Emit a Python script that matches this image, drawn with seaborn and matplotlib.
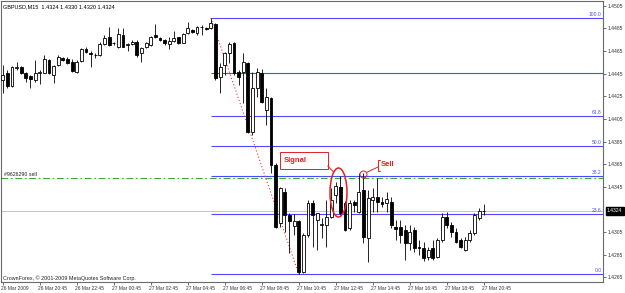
import numpy as np
import pandas as pd
import matplotlib
matplotlib.use("Agg")
import matplotlib.pyplot as plt
import matplotlib.patches as mpatches
from matplotlib.lines import Line2D
from matplotlib.transforms import Affine2D, ScaledTranslation
import seaborn as sns

# ---------------- data ----------------
opens = [1.44394, 1.44455, 1.44341, 1.44500, 1.44508, 1.44455, 1.44429, 1.44394, 1.44455, 1.44455,
         1.44570, 1.44438, 1.44526, 1.44588, 1.44583, 1.44553, 1.44464, 1.44561, 1.44667, 1.44635,
         1.44612, 1.44614, 1.44711, 1.44773, 1.44716, 1.44685, 1.44791, 1.44707, 1.44711, 1.44729,
         1.44632, 1.44685, 1.44703, 1.44791, 1.44767, 1.44747, 1.44711, 1.44741, 1.44771, 1.44723,
         1.44811, 1.44835, 1.44811, 1.44862, 1.44850, 1.44850, 1.44888, 1.44420, 1.44526, 1.44632,
         1.44720, 1.44464, 1.44464, 1.44544, 1.43934, 1.44323, 1.44455, 1.44129, 1.44235, 1.43643,
         1.43131, 1.43405, 1.43202, 1.43104, 1.43149, 1.42698, 1.43025, 1.43308, 1.43157, 1.43113,
         1.43113, 1.43184, 1.43378, 1.43449, 1.43308, 1.43087, 1.43316, 1.43228, 1.43422, 1.42998,
         1.43334, 1.43360, 1.43316, 1.43308, 1.43316, 1.43096, 1.43096, 1.43069, 1.42954, 1.43069,
         1.42919, 1.42910, 1.42831, 1.42910, 1.42831, 1.42981, 1.43184, 1.43113, 1.43051, 1.42981,
         1.42892, 1.42981, 1.43043, 1.43175, 1.43240]
highs = [1.44526, 1.44482, 1.44517, 1.44553, 1.44517, 1.44464, 1.44438, 1.44570, 1.44482, 1.44614,
         1.44579, 1.44526, 1.44614, 1.44597, 1.44597, 1.44579, 1.44570, 1.44676, 1.44685, 1.44650,
         1.44632, 1.44729, 1.44791, 1.44862, 1.44729, 1.44853, 1.44853, 1.44720, 1.44747, 1.44747,
         1.44685, 1.44729, 1.44782, 1.44888, 1.44776, 1.44756, 1.44773, 1.44826, 1.44776, 1.44806,
         1.44903, 1.44844, 1.44870, 1.44879, 1.44859, 1.44941, 1.44897, 1.44544, 1.44641, 1.44729,
         1.44729, 1.44482, 1.44632, 1.44553, 1.44464, 1.44500, 1.44491, 1.44323, 1.44243, 1.43661,
         1.43449, 1.43440, 1.43219, 1.43210, 1.43157, 1.43043, 1.43334, 1.43334, 1.43219, 1.43175,
         1.43334, 1.43440, 1.43493, 1.43546, 1.43325, 1.43334, 1.43334, 1.43572, 1.43572, 1.43422,
         1.43440, 1.43528, 1.43360, 1.43405, 1.43360, 1.43157, 1.43157, 1.43113, 1.43113, 1.43096,
         1.42981, 1.42963, 1.42919, 1.42981, 1.42998, 1.43219, 1.43228, 1.43140, 1.43087, 1.42998,
         1.43007, 1.43069, 1.43219, 1.43263, 1.43300]
lows = [1.44279, 1.44323, 1.44332, 1.44482, 1.44447, 1.44376, 1.44323, 1.44376, 1.44358, 1.44451,
        1.44447, 1.44367, 1.44517, 1.44561, 1.44539, 1.44464, 1.44455, 1.44553, 1.44632, 1.44508,
        1.44588, 1.44606, 1.44703, 1.44694, 1.44703, 1.44676, 1.44681, 1.44650, 1.44703, 1.44597,
        1.44553, 1.44676, 1.44694, 1.44764, 1.44738, 1.44703, 1.44667, 1.44729, 1.44709, 1.44718,
        1.44800, 1.44806, 1.44791, 1.44791, 1.44835, 1.44841, 1.44394, 1.44279, 1.44438, 1.44544,
        1.44438, 1.44349, 1.44191, 1.43926, 1.43908, 1.44243, 1.44191, 1.43996, 1.43572, 1.43087,
        1.43096, 1.43051, 1.42866, 1.43025, 1.42681, 1.42689, 1.43007, 1.42919, 1.42892, 1.42998,
        1.42919, 1.43175, 1.43308, 1.43202, 1.43060, 1.43069, 1.43228, 1.43219, 1.42954, 1.42787,
        1.43228, 1.43228, 1.43272, 1.43228, 1.43087, 1.42981, 1.42954, 1.42804, 1.42892, 1.42875,
        1.42848, 1.42795, 1.42804, 1.42804, 1.42822, 1.42963, 1.43087, 1.43007, 1.42954, 1.42910,
        1.42884, 1.42963, 1.43025, 1.43157, 1.43200]
closes = [1.44438, 1.44341, 1.44508, 1.44508, 1.44455, 1.44411, 1.44402, 1.44455, 1.44460, 1.44579,
          1.44455, 1.44517, 1.44597, 1.44570, 1.44548, 1.44473, 1.44553, 1.44667, 1.44641, 1.44623,
          1.44614, 1.44711, 1.44764, 1.44703, 1.44720, 1.44800, 1.44685, 1.44711, 1.44732, 1.44614,
          1.44676, 1.44720, 1.44773, 1.44773, 1.44747, 1.44720, 1.44738, 1.44762, 1.44718, 1.44800,
          1.44850, 1.44815, 1.44859, 1.44864, 1.44841, 1.44894, 1.44411, 1.44508, 1.44632, 1.44711,
          1.44455, 1.44420, 1.44553, 1.43934, 1.44323, 1.44464, 1.44199, 1.44243, 1.43643, 1.43096,
          1.43440, 1.43202, 1.43149, 1.43149, 1.42698, 1.43025, 1.43308, 1.43202, 1.43219, 1.43122,
          1.43184, 1.43334, 1.43458, 1.43219, 1.43069, 1.43308, 1.43290, 1.43405, 1.43007, 1.43352,
          1.43360, 1.43316, 1.43299, 1.43343, 1.43113, 1.43078, 1.43025, 1.42954, 1.43051, 1.42910,
          1.42910, 1.42822, 1.42892, 1.42822, 1.42981, 1.43184, 1.43113, 1.43051, 1.42963, 1.42919,
          1.42981, 1.43043, 1.43202, 1.43237, 1.43240]

tick_bars = [0, 8, 16, 24, 32, 40, 48, 56, 64, 72, 80, 88, 96, 104]
tick_labels = ["26 Mar 2009", "26 Mar 20:45", "26 Mar 22:45", "27 Mar 00:45", "27 Mar 02:45",
               "27 Mar 04:45", "27 Mar 06:45", "27 Mar 08:45", "27 Mar 10:45", "27 Mar 12:45",
               "27 Mar 14:45", "27 Mar 16:45", "27 Mar 18:45", "27 Mar 20:45"]
y_ticks = [1.4505, 1.4485, 1.4465, 1.4445, 1.4425, 1.4405, 1.4385, 1.4365, 1.4345,
           1.4305, 1.4285, 1.4265]

fib_high = 1.44941
fib_low = 1.42681
fib_start_bar = 45
fib_end_bar = 64
fib_levels = [0.0, 23.6, 38.2, 50.0, 61.8, 78.6, 100.0]
fib_labels = ["0.0", "23.6", "38.2", "50.0", "61.8", "", "100.0"]

order_price = 1.43528
order_label = "#9626290 sell"
last_price = 1.4324
header = "GBPUSD,M15  1.4324 1.4330 1.4320 1.4324"
copyright_text = "CrownForex, \u00a9 2001-2009 MetaQuotes Software Corp."

# ---------------- style ----------------
sns.set_style("white")
plt.rcParams['font.family'] = ['Liberation Sans', 'DejaVu Sans']

W, H = 625, 293
fig = plt.figure(figsize=(W / 100, H / 100), dpi=100, facecolor="white")
L_px, R_px, T_px, B_px = 1, 603, 1, 282
ax = fig.add_axes([L_px / W, (H - B_px) / H, (R_px - L_px) / W, (B_px - T_px) / H])
ax.set_facecolor("white")
# transform from image pixel coords (origin top-left)
T = Affine2D().scale(1 / W, -1 / H).translate(0, 1) + fig.transFigure

bar0_px, bar_step = 2.7, 4.625
price_top, price_per_px = 1.4510, 0.0000883
xlim = ((L_px - bar0_px) / bar_step, (R_px - bar0_px) / bar_step)
ylim = (price_top - B_px * price_per_px, price_top - T_px * price_per_px)

df = pd.DataFrame(dict(bar=np.arange(len(opens)), open=opens, high=highs, low=lows, close=closes))
up = df["close"] >= df["open"]
body_lo = np.minimum(df["open"], df["close"])
body_h = np.maximum(np.abs(df["close"] - df["open"]), 0.000008)

# current price line
ax.axhline(last_price, color="#c4c4c4", lw=0.7, zorder=1)

# fibonacci levels
fib_color = "#4a4aff"
for lev, lab in zip(fib_levels, fib_labels):
    p = fib_low + (fib_high - fib_low) * lev / 100.0
    ax.hlines(p, fib_start_bar, xlim[1], color=fib_color, lw=0.8, zorder=2)
    if lab:
        ax.annotate(lab, xy=(1, p), xycoords=("axes fraction", "data"), xytext=(-1.5, 1),
                    textcoords="offset pixels", ha="right", va="bottom", fontsize=3.6,
                    color=fib_color)

# order line
ax.axhline(order_price, color="#3aa83a", lw=0.8, ls=(0, (6, 2.5, 1.5, 2.5)), zorder=2)
ax.annotate(order_label, xy=(0, order_price), xycoords=("axes fraction", "data"), xytext=(3, 1.5),
            textcoords="offset pixels", ha="left", va="bottom", fontsize=3.8, color="#222222")

# trend line of the fibo
sns.lineplot(x=[fib_start_bar, fib_end_bar], y=[fib_high, fib_low], ax=ax, color="#ff3030",
             lw=0.8, linestyle=(0, (1, 2)), zorder=2)

# candles
ax.vlines(df["bar"], df["low"], df["high"], color="black", lw=0.6, zorder=3)
ax.bar(df["bar"], body_h, bottom=body_lo, width=0.62,
       color=np.where(up, "white", "black"), edgecolor="black", linewidth=0.6, zorder=4)

ax.set_xlim(*xlim)
ax.set_ylim(*ylim)

# axes / ticks
ax.yaxis.tick_right()
ax.set_yticks(y_ticks)
ax.set_yticklabels([f"{v:.4f}" for v in y_ticks])
ax.set_xticks(tick_bars)
ax.set_xticklabels(tick_labels)
ax.tick_params(axis="y", which="both", direction="out", length=2, width=0.5, pad=1,
               labelsize=3.6, colors="#333333", left=False, right=True)
ax.tick_params(axis="x", which="both", direction="out", length=2, width=0.5, pad=1,
               labelsize=3.5, colors="#333333", bottom=True)
for lab in ax.get_xticklabels():
    lab.set_horizontalalignment("left")
    lab.set_transform(lab.get_transform() + ScaledTranslation(-2 / 100, 0, fig.dpi_scale_trans))
for s in ax.spines.values():
    s.set_color("#6a6a6a")
    s.set_linewidth(0.8)
    s.set_visible(True)
ax.set_xlabel("")
ax.set_ylabel("")
ax.grid(False)

# price box on axis
ax.annotate(f"{last_price:.4f}", xy=(1, last_price), xycoords=("axes fraction", "data"),
            xytext=(4, 0), textcoords="offset pixels", ha="left", va="center", fontsize=3.6,
            color="white", annotation_clip=False,
            bbox=dict(boxstyle="square,pad=0.3", fc="black", ec="black"))

# texts
fig.text(3 / W, 1 - 6.3 / H, header, ha="left", va="center", fontsize=4, color="black")
fig.text(3 / W, 1 - 278 / H, copyright_text, ha="left", va="center", fontsize=3.9, color="#222222")

# annotations (Signal / Sell)
red = "#e62020"
fig.add_artist(mpatches.Ellipse((338.5, 192.5), 17, 49, transform=T, fill=False, ec=red, lw=1.1))
fig.add_artist(mpatches.Rectangle((280, 152), 48, 17, transform=T, fill=False, ec=red, lw=0.7))
fig.add_artist(Line2D([327.7, 333.3], [166, 171.7], transform=T, color=red, lw=0.7))
fig.text(284 / W, 1 - 160.5 / H, "Signal", ha="left", va="center", fontsize=5.5,
         weight="bold", color=red)
fig.add_artist(mpatches.Circle((363.5, 174.5), 3.5, transform=T, fill=False, ec=red, lw=0.7))
fig.add_artist(Line2D([366.5, 378], [172.5, 167], transform=T, color=red, lw=0.7))
fig.add_artist(Line2D([380, 378, 378, 380], [160, 160, 171, 171], transform=T, color=red, lw=0.7))
fig.text(381 / W, 1 - 164.5 / H, "Sell", ha="left", va="center", fontsize=5.5,
         weight="bold", color=red)

fig.savefig("out.png", dpi=100, facecolor="white")
